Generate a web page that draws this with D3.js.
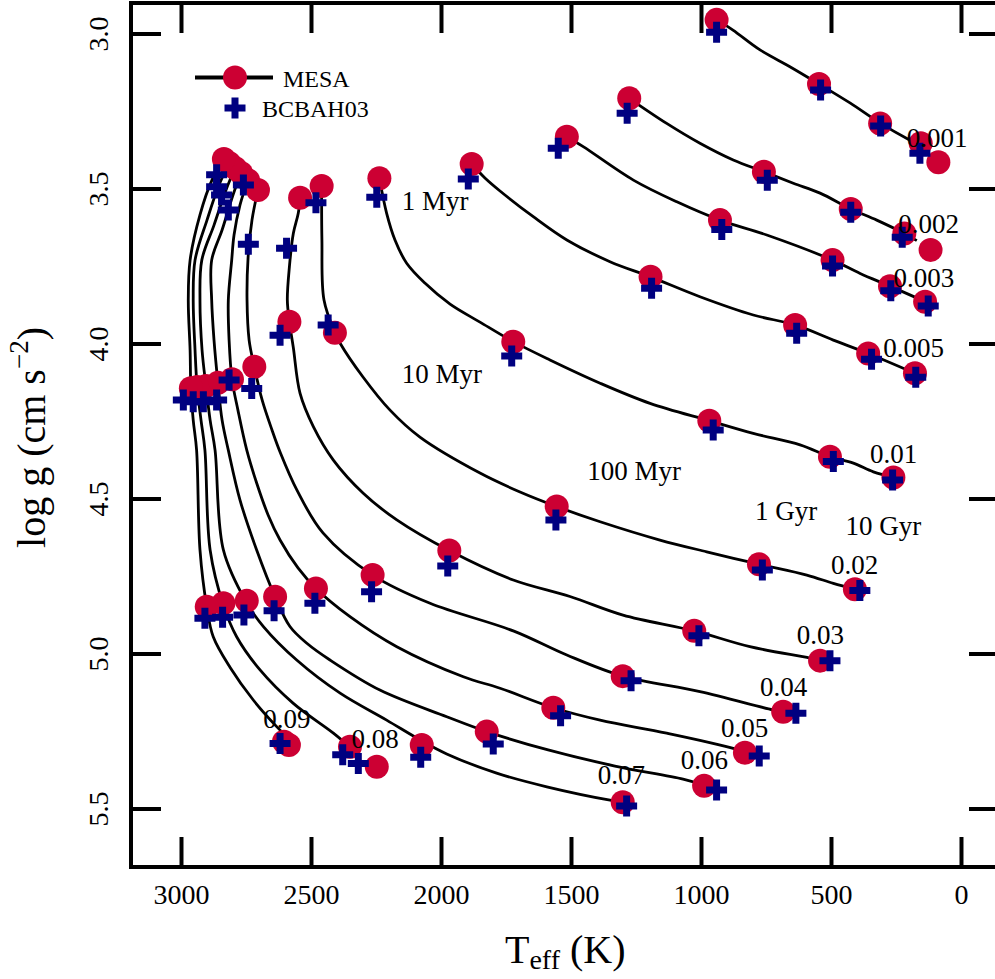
<!DOCTYPE html>
<html><head><meta charset="utf-8">
<script src="https://cdn.jsdelivr.net/npm/d3@7"></script>
<style>
html,body{margin:0;padding:0;background:#fff;}
svg{display:block;}
</style></head><body>
<svg id="chart" width="995" height="979"></svg>
<script>
// ---------------- DATA ----------------
const masses = ["0.001","0.002","0.003","0.005","0.01","0.02","0.03","0.04","0.05","0.06","0.07","0.08","0.09"];
const ages = ["1 Myr","10 Myr","100 Myr","1 Gyr","10 Gyr"];

// MESA points (per mass, at 1 Myr, 10 Myr, 100 Myr, 1 Gyr, 10 Gyr)
const mesaTeff = [
  [940, 546, 311, 155, 87],
  [1276, 758, 424, 218, 117],
  [1516, 927, 494, 273, 138],
  [1882, 1194, 638, 357, 177],
  [2237, 1722, 968, 504, 260],
  [2459, 2408, 1555, 777, 408],
  [2542, 2583, 1968, 1026, 542],
  [2704, 2718, 2263, 1301, 684],
  [2742, 2804, 2481, 1568, 831],
  [2769, 2858, 2638, 1824, 988],
  [2792, 2904, 2747, 2074, 1301],
  [2815, 2938, 2837, 2350, 2247],
  [2835, 2962, 2901, 2604, 2585]
];
const mesaLogg = [
  [2.956, 3.163, 3.290, 3.354, 3.415],
  [3.209, 3.446, 3.566, 3.645, 3.698],
  [3.333, 3.602, 3.731, 3.815, 3.865],
  [3.421, 3.785, 3.940, 4.032, 4.096],
  [3.467, 3.994, 4.249, 4.365, 4.432],
  [3.492, 3.965, 4.526, 4.712, 4.793],
  [3.530, 3.930, 4.668, 4.927, 5.023],
  [3.505, 4.075, 4.747, 5.073, 5.188],
  [3.473, 4.115, 4.790, 5.175, 5.320],
  [3.450, 4.127, 4.817, 5.252, 5.427],
  [3.434, 4.137, 4.830, 5.295, 5.480],
  [3.418, 4.140, 4.838, 5.301, 5.365],
  [3.405, 4.144, 4.849, 5.285, 5.295]
];

// BCBAH03 points
const bcbahTeff = [
  [940, 540, 309, 158],
  [1284, 745, 424, 226],
  [1549, 920, 494, 270, 126],
  [1895, 1190, 632, 344, 174],
  [2247, 1728, 953, 491, 263],
  [2481, 2434, 1558, 764, 389],
  [2594, 2619, 1974, 1008, 504],
  [2741, 2728, 2267, 1269, 635],
  [2760, 2815, 2485, 1540, 776],
  [2818, 2863, 2642, 1799, 940],
  [2844, 2914, 2758, 2078, 1286],
  [2863, 2953, 2840, 2378, 2318],
  [2863, 2991, 2908, 2619]
];
const bcbahLogg = [
  [2.996, 3.182, 3.298, 3.386],
  [3.257, 3.473, 3.577, 3.657],
  [3.370, 3.632, 3.750, 3.830, 3.879],
  [3.469, 3.822, 3.967, 4.051, 4.109],
  [3.528, 4.040, 4.279, 4.381, 4.440],
  [3.546, 3.940, 4.569, 4.731, 4.797],
  [3.693, 3.973, 4.718, 4.943, 5.023],
  [3.680, 4.145, 4.801, 5.088, 5.193],
  [3.489, 4.118, 4.838, 5.201, 5.331],
  [3.569, 4.182, 4.862, 5.292, 5.440],
  [3.521, 4.188, 4.876, 5.335, 5.492],
  [3.494, 4.188, 4.883, 5.327, 5.355],
  [3.456, 4.182, 4.886, 5.290]
];

// MESA evolutionary tracks (continuous lines)
const trackTeff = [
  [938, 877, 773, 658, 546, 427, 311, 196, 150],
  [1276, 1132, 1004, 876, 758, 645, 542, 424, 324, 218, 170],
  [1516, 1453, 1260, 1093, 927, 747, 494, 388, 273, 138],
  [1882, 1831, 1773, 1645, 1516, 1350, 1194, 1004, 799, 638, 491, 357, 177],
  [2237, 2209, 2177, 2132, 2062, 1965, 1850, 1722, 1581, 1388, 1196, 968, 799, 619, 504, 414, 337, 260],
  [2459, 2458, 2450, 2408, 2388, 2300, 2196, 2081, 1850, 1696, 1555, 1388, 1158, 978, 777, 593, 491, 408],
  [2542, 2549, 2568, 2583, 2591, 2583, 2568, 2542, 2491, 2414, 2299, 2170, 1968, 1722, 1504, 1300, 1026, 812, 581, 542],
  [2704, 2727, 2742, 2746, 2738, 2718, 2688, 2650, 2619, 2554, 2454, 2263, 2042, 1722, 1516, 1301, 1004, 723, 684],
  [2742, 2773, 2796, 2805, 2818, 2815, 2804, 2781, 2747, 2709, 2665, 2619, 2550, 2481, 2350, 2170, 1914, 1773, 1568, 1388, 1132, 876, 831],
  [2769, 2800, 2842, 2882, 2882, 2873, 2858, 2842, 2818, 2773, 2709, 2638, 2581, 2516, 2427, 2235, 1978, 1824, 1588, 1331, 1069, 1004],
  [2792, 2827, 2873, 2920, 2927, 2919, 2904, 2888, 2869, 2837, 2750, 2683, 2555, 2388, 2209, 2074, 1978, 1786, 1593, 1350, 1301],
  [2815, 2854, 2900, 2946, 2953, 2946, 2938, 2923, 2908, 2888, 2837, 2786, 2696, 2568, 2414, 2356],
  [2835, 2881, 2927, 2965, 2972, 2965, 2962, 2953, 2940, 2927, 2901, 2876, 2811, 2722, 2632, 2594]
];
const trackLogg = [
  [2.956, 2.989, 3.053, 3.107, 3.163, 3.224, 3.289, 3.344, 3.363],
  [3.209, 3.290, 3.354, 3.408, 3.446, 3.483, 3.515, 3.566, 3.602, 3.645, 3.668],
  [3.333, 3.365, 3.473, 3.543, 3.602, 3.650, 3.731, 3.774, 3.815, 3.865],
  [3.421, 3.466, 3.508, 3.591, 3.666, 3.736, 3.785, 3.849, 3.908, 3.940, 3.989, 4.032, 4.096],
  [3.467, 3.580, 3.666, 3.741, 3.805, 3.873, 3.931, 3.994, 4.053, 4.128, 4.193, 4.249, 4.290, 4.327, 4.365, 4.386, 4.414, 4.432],
  [3.492, 3.666, 3.860, 3.965, 3.999, 4.108, 4.215, 4.302, 4.418, 4.479, 4.526, 4.575, 4.634, 4.672, 4.712, 4.747, 4.774, 4.793],
  [3.530, 3.580, 3.645, 3.752, 3.860, 3.930, 4.013, 4.161, 4.268, 4.376, 4.483, 4.569, 4.668, 4.763, 4.816, 4.876, 4.927, 4.978, 5.015, 5.023],
  [3.505, 3.602, 3.723, 3.860, 3.989, 4.075, 4.182, 4.279, 4.350, 4.473, 4.611, 4.747, 4.838, 4.927, 5.005, 5.073, 5.123, 5.182, 5.188],
  [3.473, 3.553, 3.650, 3.731, 3.860, 3.989, 4.115, 4.215, 4.344, 4.450, 4.553, 4.634, 4.724, 4.790, 4.881, 4.978, 5.075, 5.112, 5.175, 5.215, 5.257, 5.306, 5.320],
  [3.450, 3.521, 3.634, 3.731, 3.860, 3.989, 4.127, 4.247, 4.344, 4.505, 4.666, 4.817, 4.913, 4.967, 5.021, 5.118, 5.204, 5.252, 5.311, 5.363, 5.405, 5.421],
  [3.434, 3.505, 3.618, 3.731, 3.860, 4.021, 4.137, 4.247, 4.344, 4.666, 4.833, 4.913, 5.021, 5.128, 5.215, 5.282, 5.324, 5.386, 5.430, 5.473, 5.479],
  [3.418, 3.489, 3.602, 3.731, 3.860, 4.021, 4.140, 4.247, 4.344, 4.666, 4.844, 4.946, 5.053, 5.161, 5.257, 5.298],
  [3.405, 3.473, 3.585, 3.731, 3.860, 4.021, 4.144, 4.247, 4.344, 4.666, 4.849, 4.946, 5.045, 5.150, 5.236, 5.268]
];

// annotation anchors (data coordinates)
const massLabelTeff = [209, 241, 260, 299, 350, 500, 632, 773, 923, 1078, 1397, 2344, 2684];
const massLabelLogg = [3.365, 3.645, 3.817, 4.045, 4.386, 4.744, 4.969, 5.137, 5.270, 5.374, 5.422, 5.306, 5.240];
const ageLabelTeff = [2151, 2151, 1437, 792, 444];
const ageLabelLogg = [3.569, 4.128, 4.440, 4.569, 4.618];

const xTicks = [3000, 2500, 2000, 1500, 1000, 500, 0];
const yTicks = [3.0, 3.5, 4.0, 4.5, 5.0, 5.5];
const legendLabels = ["MESA", "BCBAH03"];

// ---------------- DRAW ----------------
const FONT = '"Liberation Serif","Times New Roman",Times,serif';
const RED = "#cc0033", NAVY = "#000080";
const svg = d3.select("#chart");
svg.append("rect").attr("width",995).attr("height",979).attr("fill","#fff");

const L = 131, R = 999, T = 3, B = 867;
const x = d3.scaleLinear().domain([3192.3, -146.2]).range([L, R]);
const y = d3.scaleLinear().domain([2.9016, 5.6887]).range([T, B]);

// frame
svg.append("rect").attr("x",L).attr("y",T).attr("width",R-L).attr("height",B-T)
  .attr("fill","none").attr("stroke","#000").attr("stroke-width",4);

// axes
const gB = svg.append("g").attr("transform",`translate(0,${B})`)
  .call(d3.axisBottom(x).tickValues(xTicks).tickSize(-30).tickPadding(0).tickFormat(d3.format("d")));
gB.attr("font-size",28).attr("font-family",FONT);
gB.select(".domain").remove();
gB.selectAll(".tick line").attr("stroke-width",4);
gB.selectAll(".tick text").attr("dy",null).attr("y",37).attr("fill","#000");

const gT = svg.append("g").attr("transform",`translate(0,${T})`)
  .call(d3.axisTop(x).tickValues(xTicks).tickSize(-30).tickFormat(""));
gT.select(".domain").remove();
gT.selectAll(".tick line").attr("stroke-width",4);

const gL = svg.append("g").attr("transform",`translate(${L},0)`)
  .call(d3.axisLeft(y).tickValues(yTicks).tickSize(-30).tickFormat(d3.format(".1f")));
gL.attr("font-size",28).attr("font-family",FONT);
gL.select(".domain").remove();
gL.selectAll(".tick line").attr("stroke-width",4);
gL.selectAll(".tick text").attr("x",0).attr("dy",null).attr("text-anchor","middle")
  .attr("transform","translate(-23,0) rotate(-90)").attr("fill","#000");

const gR = svg.append("g").attr("transform",`translate(${R},0)`)
  .call(d3.axisRight(y).tickValues(yTicks).tickSize(-30).tickFormat(""));
gR.select(".domain").remove();
gR.selectAll(".tick line").attr("stroke-width",4);

// tracks
const line = d3.line().x(d => x(d[0])).y(d => y(d[1])).curve(d3.curveCatmullRom.alpha(0.5));
const gTracks = svg.append("g");
masses.forEach((m, i) => {
  const pts = trackTeff[i].map((t, j) => [t, trackLogg[i][j]]);
  gTracks.append("path").attr("d", line(pts)).attr("fill","none")
    .attr("stroke","#000").attr("stroke-width",2.8).attr("stroke-linejoin","round");
});

// MESA circles
const mesaPts = [];
masses.forEach((m, i) => mesaTeff[i].forEach((t, j) => mesaPts.push({m, age: ages[j], t, g: mesaLogg[i][j]})));
svg.append("g").selectAll("circle").data(mesaPts).join("circle")
  .attr("cx", d => x(d.t)).attr("cy", d => y(d.g)).attr("r", 12).attr("fill", RED);

// BCBAH03 crosses
const cross = d3.symbol().type(d3.symbolCross).size(245);
const bcPts = [];
masses.forEach((m, i) => bcbahTeff[i].forEach((t, j) => bcPts.push({m, t, g: bcbahLogg[i][j]})));
svg.append("g").selectAll("path").data(bcPts).join("path")
  .attr("d", cross).attr("transform", d => `translate(${x(d.t)},${y(d.g)})`).attr("fill", NAVY);

// labels
const gLab = svg.append("g").attr("font-family",FONT).attr("font-size",27).attr("fill","#000");
masses.forEach((m, i) => {
  gLab.append("text").attr("x", x(massLabelTeff[i])).attr("y", y(massLabelLogg[i])).text(m);
});
ages.forEach((a, i) => {
  gLab.append("text").attr("x", x(ageLabelTeff[i])).attr("y", y(ageLabelLogg[i])).text(a);
});

// legend
const gLeg = svg.append("g").attr("font-family",FONT).attr("font-size",24);
gLeg.append("line").attr("x1",195).attr("x2",273).attr("y1",77.5).attr("y2",77.5)
  .attr("stroke","#000").attr("stroke-width",4);
gLeg.append("circle").attr("cx",235).attr("cy",77.5).attr("r",12).attr("fill",RED);
gLeg.append("text").attr("x",283).attr("y",87).text(legendLabels[0]);
gLeg.append("path").attr("d",cross).attr("transform","translate(235,108)").attr("fill",NAVY);
gLeg.append("text").attr("x",262).attr("y",117).text(legendLabels[1]);

// axis titles
const xt = svg.append("text").attr("x",505).attr("y",963).attr("font-family",FONT).attr("font-size",40);
xt.append("tspan").text("T");
xt.append("tspan").attr("font-size",28).attr("dy",6).text("eff");
xt.append("tspan").attr("dy",-6).text("\u00a0(K)");

const yt = svg.append("text").attr("transform","translate(45,437.5) rotate(-90)")
  .attr("text-anchor","middle").attr("font-family",FONT).attr("font-size",40);
yt.append("tspan").text("log g (cm s");
yt.append("tspan").attr("font-size",27).attr("dy",-17).text("\u22122");
yt.append("tspan").attr("dy",17).text(")");
</script>
</body></html>
